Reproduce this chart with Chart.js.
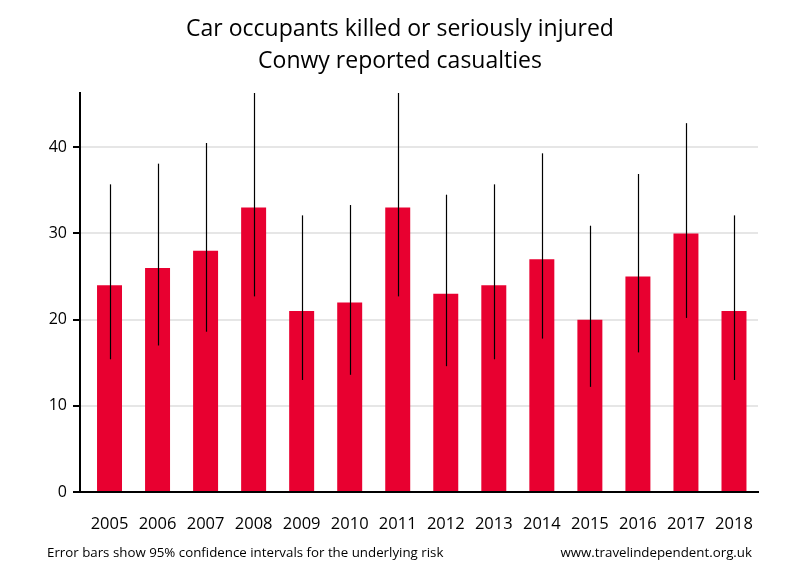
<!DOCTYPE html>
<html>
<head>
<meta charset="utf-8">
<script src="https://cdn.jsdelivr.net/npm/chart.js@4"></script>
<style>
  body { margin: 0; background: #fff; }
  #wrap { width: 800px; height: 580px; }
</style>
</head>
<body>
<div id="wrap"><canvas id="casualties" width="800" height="580"></canvas></div>
<script>
// Years along the x-axis
var years = ["2005", "2006", "2007", "2008", "2009", "2010", "2011",
             "2012", "2013", "2014", "2015", "2016", "2017", "2018"];
// Killed or seriously injured per year
var ksi = [24, 26, 28, 33, 21, 22, 33, 23, 24, 27, 20, 25, 30, 21];
// 95% confidence interval for the underlying risk
var lower = [15.4, 17.0, 18.6, 22.7, 13.0, 13.6, 22.7, 14.6, 15.4, 17.8, 12.2, 16.2, 20.2, 13.0];
var upper = [35.7, 38.1, 40.5, 46.3, 32.1, 33.3, 46.3, 34.5, 35.7, 39.3, 30.9, 36.9, 42.8, 32.1];

var titleLines = ["Car occupants killed or seriously injured", "Conwy reported casualties"];
var footLeft = "Error bars show 95% confidence intervals for the underlying risk";
var footRight = "www.travelindependent.org.uk";

var font = "'Open Sans', 'DejaVu Sans', sans-serif";

// bars start a few pixels right of the y axis line
var shiftBars = {
  id: "shiftBars",
  afterLayout: function (chart) {
    var x = chart.scales.x;
    var left = x.left;
    x.left = left + 5.5;
    x.configure();
    x.left = left;
  }
};

// error bars, drawn through the scales
var errorBars = {
  id: "errorBars",
  afterDatasetsDraw: function (chart) {
    var ctx = chart.ctx;
    var y = chart.scales.y;
    var meta = chart.getDatasetMeta(0);
    var area = chart.chartArea;
    ctx.save();
    ctx.beginPath();
    ctx.rect(area.left, area.top, area.right - area.left, area.bottom - area.top);
    ctx.clip();
    ctx.strokeStyle = "#000";
    ctx.lineWidth = 1.2;
    meta.data.forEach(function (bar, i) {
      var x = Math.round(bar.x) + 0.5;
      ctx.beginPath();
      ctx.moveTo(x, y.getPixelForValue(lower[i]));
      ctx.lineTo(x, y.getPixelForValue(upper[i]));
      ctx.stroke();
    });
    ctx.restore();
  }
};

// title and footer texts
var texts = {
  id: "texts",
  afterDraw: function (chart) {
    var ctx = chart.ctx;
    ctx.save();
    ctx.fillStyle = "#000";
    ctx.textBaseline = "middle";
    ctx.textAlign = "center";
    ctx.font = "23px " + font;
    ctx.fillText(titleLines[0], 400, 29);
    ctx.fillText(titleLines[1], 400, 61);
    ctx.font = "13.3px " + font;
    ctx.textAlign = "left";
    ctx.fillText(footLeft, 47, 553);
    ctx.textAlign = "right";
    ctx.fillText(footRight, 752, 553);
    ctx.restore();
  }
};

var ctx = document.getElementById("casualties");
var myChart = new Chart(ctx, {
  type: "bar",
  data: {
    labels: years,
    datasets: [
      {
        data: ksi,
        label: "KSI",
        backgroundColor: "#e80030",
        barPercentage: 0.52,
        categoryPercentage: 1
      }
    ]
  },
  options: {
    responsive: false,
    animation: false,
    layout: { padding: { top: 93, right: 42, left: 0, bottom: 0 } },
    plugins: {
      legend: { display: false },
      tooltip: { enabled: false },
      title: { display: false }
    },
    scales: {
      x: {
        grid: { display: false },
        border: { display: true, color: "#000", width: 2 },
        ticks: { color: "#000", padding: 14, font: { family: font, size: 16.5 } },
        afterFit: function (scale) { scale.height = 88; }
      },
      y: {
        min: 0,
        max: 46.3,
        grid: {
          color: "#e6e6e6",
          lineWidth: 2,
          tickColor: "#000",
          tickLength: 7,
          tickWidth: 2
        },
        border: { display: true, color: "#000", width: 2 },
        ticks: { stepSize: 10, color: "#000", padding: 6, font: { family: font, size: 16 } },
        afterBuildTicks: function (scale) {
          scale.ticks = scale.ticks.filter(function (t) { return t.value % 10 === 0; });
        },
        afterFit: function (scale) { scale.width = 80; }
      }
    }
  },
  plugins: [shiftBars, errorBars, texts]
});
</script>
</body>
</html>
